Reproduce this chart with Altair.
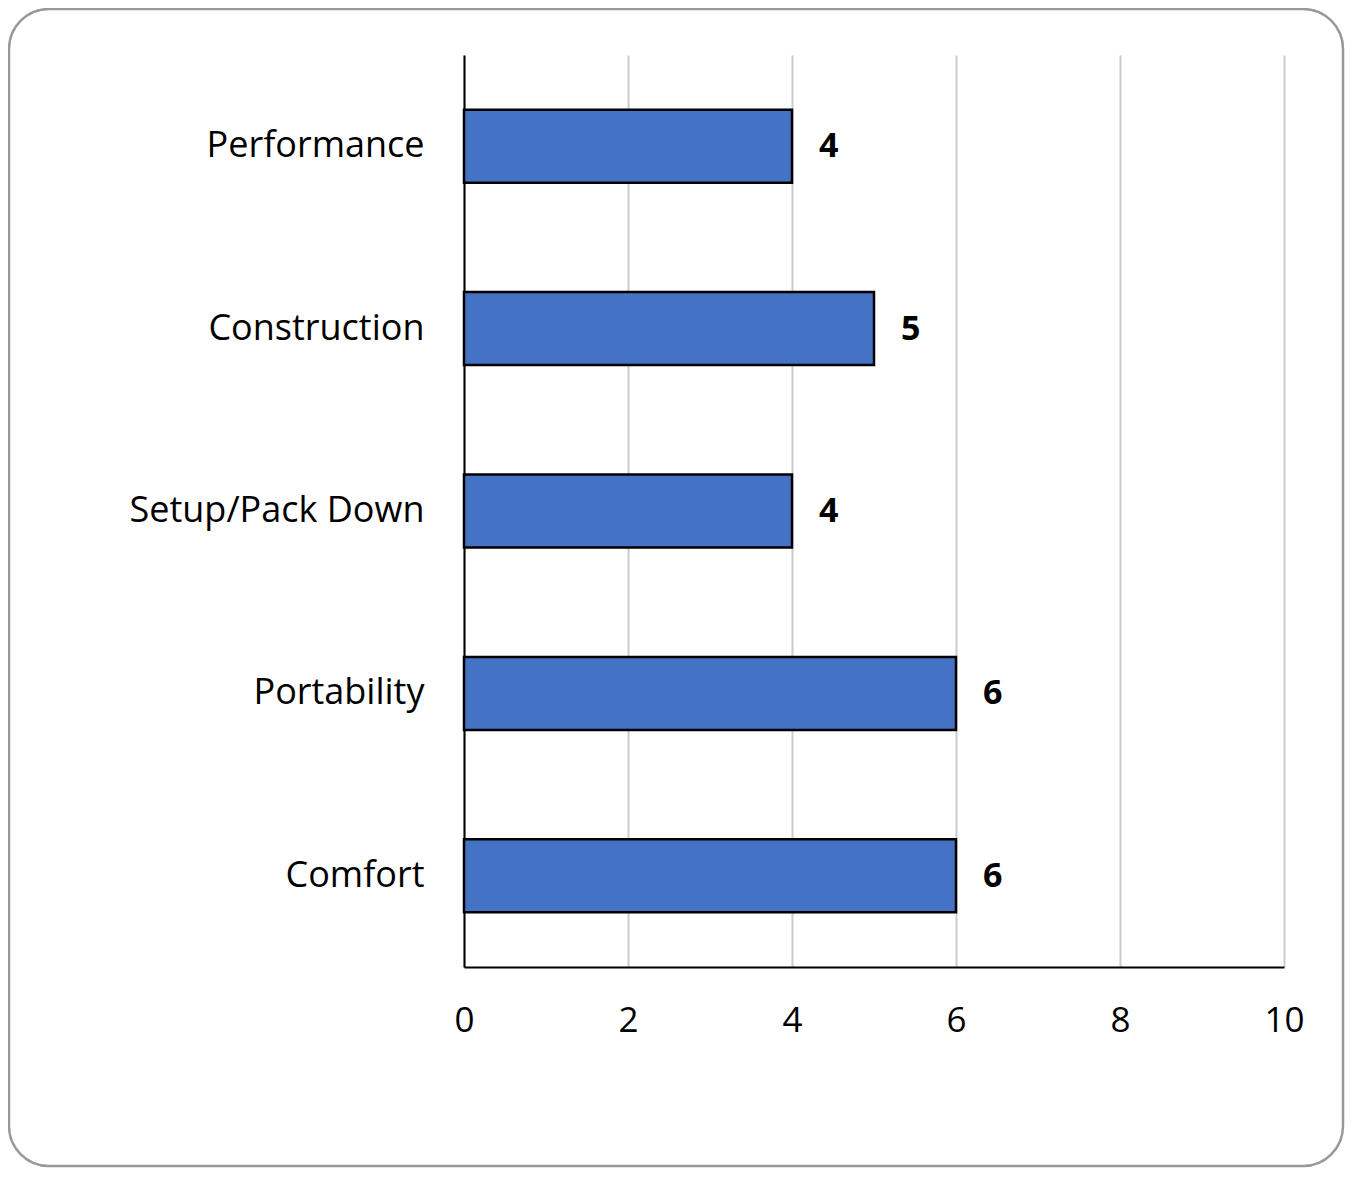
import altair as alt
import pandas as pd

categories = ["Performance", "Construction", "Setup/Pack Down", "Portability", "Comfort"]
values = [4, 5, 4, 6, 6]
x_ticks = [0, 2, 4, 6, 8, 10]

df = pd.DataFrame({"category": categories, "value": values})
FONT = "Open Sans"

y_enc = alt.Y("category:N", sort=categories, title=None,
              scale=alt.Scale(paddingInner=0.6, paddingOuter=0.3),
              axis=alt.Axis(ticks=False, labelFontSize=36, labelFont=FONT,
                            labelColor="#000000", labelPadding=40,
                            domainColor="#000000", domainWidth=2, grid=False,
                            labelLimit=500))
x_enc = alt.X("value:Q", title=None,
              scale=alt.Scale(domain=[0, 10], nice=False),
              axis=alt.Axis(values=x_ticks, format="d", ticks=False, labelFontSize=35,
                            labelFont=FONT, labelColor="#000000", labelPadding=36,
                            labelFlush=False, labelOverlap=False,
                            domainColor="#000000", domainWidth=2,
                            grid=True, gridColor="#cccccc", gridWidth=2))

frame = alt.Chart(pd.DataFrame({"f": [0]})).mark_rect(
    fillOpacity=0, stroke="#999999", strokeWidth=2.5, cornerRadius=40
).encode(x=alt.value(-455), x2=alt.value(879), y=alt.value(-46), y2=alt.value(1111))

bars = alt.Chart(df).mark_bar(color="#4472c4", stroke="#000000", strokeWidth=2.5).encode(
    x=x_enc, y=y_enc)

labels = alt.Chart(df).mark_text(align="left", baseline="middle", dx=27, dy=1,
                                 fontSize=34, fontWeight="bold", font=FONT,
                                 color="#000000").encode(
    x=alt.X("value:Q"), y=alt.Y("category:N", sort=categories), text="value:Q")

chart = alt.layer(frame, bars, labels).properties(
    width=820, height=912,
    autosize=alt.AutoSizeParams(type="none"),
    padding={"left": 456, "top": 47, "right": 61, "bottom": 201},
    background="white",
).configure_view(stroke=None)

chart.save("out.html", embed_options={"renderer": "svg", "actions": False})
